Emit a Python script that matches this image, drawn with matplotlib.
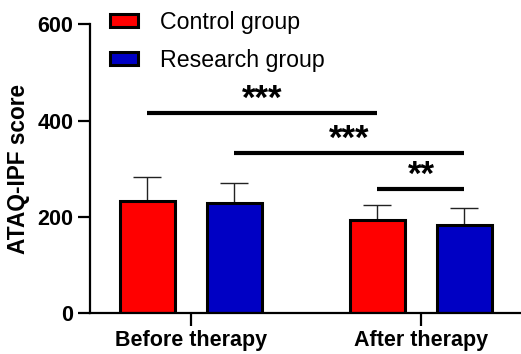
import numpy as np
import matplotlib
matplotlib.use('Agg')
import matplotlib.pyplot as plt
from matplotlib.patches import Patch

plt.rcParams['font.family'] = ['Liberation Sans', 'DejaVu Sans']

groups = ['Before therapy', 'After therapy']
series = ['Control group', 'Research group']
control_mean = [233, 194]
control_sd = [49, 30]
research_mean = [229, 182]
research_sd = [41, 36]
colors = ['#FF0000', '#0000C4']

# significance brackets: (x start, x end, y, label)
sig_pairs = [((0, 0), (1, 0), 415, '***'),
             ((0, 1), (1, 1), 333, '***'),
             ((1, 0), (1, 1), 257, '**')]


def draw_chart():
    fig = plt.figure(figsize=(5.21, 3.54), dpi=100)
    ax = fig.add_axes([90 / 521, 1 - 313 / 354, 1 - 90 / 521, (313 - 24.5) / 354])

    x = np.arange(len(groups))
    offset = 0.189
    width = 0.239
    means = [control_mean, research_mean]
    sds = [control_sd, research_sd]
    for i, (m, s) in enumerate(zip(means, sds)):
        pos = x + (2 * i - 1) * offset
        ax.bar(pos, m, width, color=colors[i], edgecolor='black', linewidth=2.2, zorder=2)
        ax.errorbar(pos, m, yerr=[np.zeros(len(s)), s], fmt='none', ecolor='#222222',
                    elinewidth=1.0, capsize=10, capthick=1.0, zorder=1)

    for (g1, s1), (g2, s2), y, label in sig_pairs:
        x1 = x[g1] + (2 * s1 - 1) * offset
        x2 = x[g2] + (2 * s2 - 1) * offset
        ax.plot([x1, x2], [y, y], color='black', linewidth=3.0, solid_capstyle='butt')
        ax.text((x1 + x2) / 2, y - 6, label, ha='center', va='bottom',
                fontsize=25, fontweight='bold')

    ax.set_xlim(-0.439, 1.435)
    ax.set_ylim(0, 600)
    ax.set_yticks([0, 200, 400, 600])
    ax.set_xticks(x)
    ax.set_xticklabels(groups, fontsize=15.5, fontweight='bold')
    for lbl in ax.get_yticklabels():
        lbl.set_fontsize(15.5)
        lbl.set_fontweight('bold')
    ax.set_ylabel('ATAQ-IPF score', fontsize=16.3, fontweight='bold', labelpad=5)
    ax.spines['top'].set_visible(False)
    ax.spines['right'].set_visible(False)
    ax.spines['left'].set_linewidth(1.6)
    ax.spines['bottom'].set_linewidth(1.6)
    ax.tick_params(axis='both', width=1.6, length=9, pad=3)

    handles = [Patch(facecolor=c, edgecolor='black', linewidth=2.2) for c in colors]
    ax.legend(handles, series, loc='upper left', bbox_to_anchor=(110 / 521, 1 - 11 / 354),
              bbox_transform=fig.transFigure, frameon=False, fontsize=16.7,
              handlelength=1.2, handleheight=0.5, handletextpad=0.95, labelspacing=0.65,
              borderaxespad=0, borderpad=0)

    fig.savefig('out.png', dpi=100)


if __name__ == '__main__':
    draw_chart()
